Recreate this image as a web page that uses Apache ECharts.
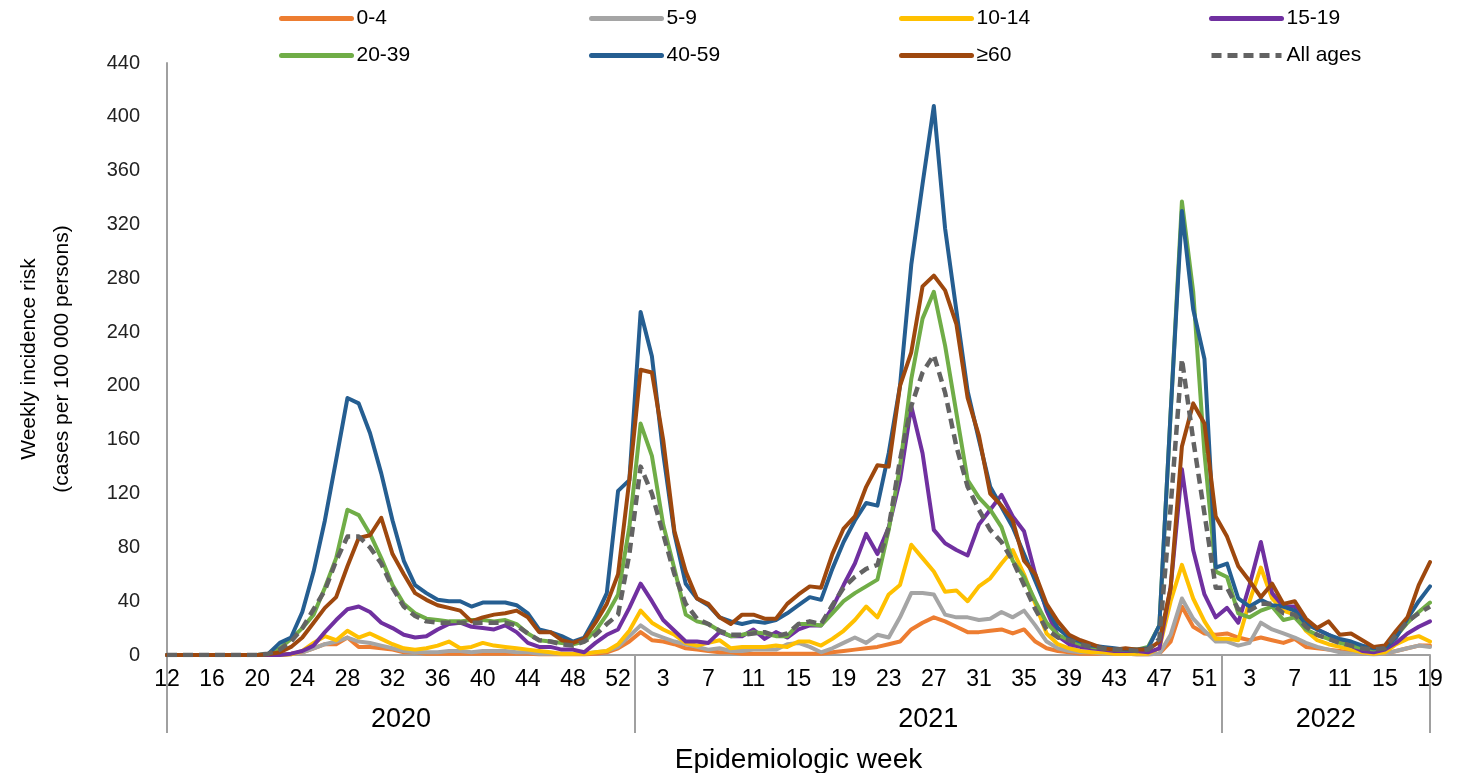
<!DOCTYPE html>
<html>
<head>
<meta charset="utf-8">
<script src="https://cdn.jsdelivr.net/npm/echarts@6/dist/echarts.min.js"></script>
<style>
html,body{margin:0;padding:0;background:#fff;}
#chart{width:1458px;height:773px;}
</style>
</head>
<body>
<div id="chart"></div>
<script>
// Epidemiologic weeks per year
const weeks2020 = [12,13,14,15,16,17,18,19,20,21,22,23,24,25,26,27,28,29,30,31,32,33,34,35,36,37,38,39,40,41,42,43,44,45,46,47,48,49,50,51,52,53];
const weeks2021 = [1,2,3,4,5,6,7,8,9,10,11,12,13,14,15,16,17,18,19,20,21,22,23,24,25,26,27,28,29,30,31,32,33,34,35,36,37,38,39,40,41,42,43,44,45,46,47,48,49,50,51,52];
const weeks2022 = [1,2,3,4,5,6,7,8,9,10,11,12,13,14,15,16,17,18,19];
const years = ['2020','2021','2022'];

const seriesNames = ['0-4','5-9','10-14','15-19','20-39','40-59','≥60','All ages'];

// Weekly incidence risk (cases per 100 000 persons), 2020 w12 -> 2022 w19
const age0_4 = [
  0,0,0,0,0,0,0,0,0,0,0.5,1, 2,5,8,8,13,6,6,5,4,2, 2,1,1,1,1,1,1,1,1,1, 1,0.5,0.5,0.5,0.5,0.5,1,2,5,10,
  17,11,10,8,5,4,3,2,2,1, 1,1,1,1,1,1,1,2,3,4, 5,6,8,10,19,24,28,25,21,17, 17,18,19,16,19,10,5,3,2,1, 1,1,1,1,0.5,0.5,1,10,36,21, 16,15,
  16,13,11,13,11,9,12,6,5,4, 3,2,1,1,1,3,5,7,7
];
const age5_9 = [
  0,0,0,0,0,0,0,0,0,0,0,0.5, 2,5,8,10,13,10,9,7,5,3, 2,2,2,3,3,2,3,3,3,2, 2,1,1,1,1,1,2,3,6,14,
  22,16,13,10,8,6,4,5,3,3, 4,4,4,8,9,6,2,5,9,13, 9,15,13,28,46,46,45,30,28,28, 26,27,32,28,33,22,10,5,3,2, 2,1,1,1,0.5,0.5,1,15,42,27, 18,10,
  10,7,9,24,19,16,13,9,6,4, 2,1,1,0.5,1,3,5,7,6
];
const age10_14 = [
  0,0,0,0,0,0,0,0,0,0,0,0.5, 3,9,14,11,18,13,16,12,8,5, 4,5,7,10,5,6,9,7,6,5, 4,3,2,1,1,1,2,3,8,18,
  33,24,19,15,9,7,9,11,5,6, 6,6,7,6,10,10,7,12,18,26, 36,28,45,52,82,72,62,47,48,40, 51,57,68,78,60,38,16,8,5,3, 2,2,1,1,1,1,5,40,67,42, 25,12,
  12,11,40,65,42,33,30,18,11,8, 6,4,2,1,2,8,12,14,10
];
const age15_19 = [
  0,0,0,0,0,0,0,0,0,0,0,1, 3,7,17,26,34,36,32,24,20,15, 13,14,19,23,24,21,20,19,22,17, 9,6,6,4,4,2,9,15,19,35,
  53,40,26,18,10,10,9,17,14,14, 19,12,17,13,19,22,22,35,52,68, 90,75,95,130,185,150,93,83,78,74, 97,108,119,103,92,60,33,14,8,6, 5,4,3,3,3,2,5,50,138,78, 45,28,
  35,24,52,84,46,36,36,25,19,15, 10,7,3,2,4,9,16,21,25
];
const age20_39 = [
  0,0,0,0,0,0,0,0,0,1,5,12, 20,30,50,72,108,104,90,72,52,38, 31,27,26,25,25,26,26,25,26,23, 16,11,10,9,8,10,18,30,45,95,
  172,148,97,64,30,25,23,18,14,15, 17,16,14,14,23,23,22,31,40,46, 51,56,93,140,205,250,270,230,180,130, 117,108,95,70,58,40,24,15,11,8, 6,5,4,4,4,6,22,180,337,270, 150,62,
  58,31,28,33,36,26,28,19,15,12, 9,7,5,4,6,14,24,32,39
];
const age40_59 = [
  0,0,0,0,0,0,0,0,0,1,9,13, 32,62,100,145,191,187,165,135,100,70, 52,46,41,40,40,36,39,39,39,37, 31,19,17,14,10,13,28,46,122,130,
  255,222,150,90,53,42,37,28,25,23, 25,24,26,31,37,43,41,64,84,100, 113,111,150,200,290,350,408,317,256,196, 160,125,110,95,75,55,35,20,13,10, 7,6,5,4,4,5,22,180,330,257, 220,65,
  68,42,36,41,37,36,33,23,19,15, 12,10,7,5,5,13,27,40,51
];
const age60plus = [
  0,0,0,0,0,0,0,0,0,0.5,2,6, 13,24,35,43,66,87,89,102,75,60, 46,41,37,35,33,25,28,30,31,33, 28,17,17,11,9,12,24,38,60,130,
  212,210,160,92,62,42,38,28,23,30, 30,27,27,38,45,51,50,75,94,103, 125,141,140,200,225,274,282,271,246,191, 163,120,111,100,70,60,38,25,15,11, 8,5,4,5,4,4,10,50,155,187, 172,103,
  88,66,55,43,53,38,40,27,20,25, 15,16,11,6,7,18,28,52,69
];
const allAges = [
  0,0,0,0,0,0,0,0,0,1,4,10, 20,34,48,70,88,88,80,68,50,36, 29,25,24,24,24,24,24,24,24,22, 16,11,10,8,7,10,15,23,30,75,
  140,120,90,60,38,27,23,18,15,15, 16,17,14,16,23,25,23,37,50,58, 64,67,95,145,185,210,223,195,155,125, 108,93,84,70,52,34,19,13,11,8, 6,5,4,4,3,4,12,110,220,160, 105,50,
  50,34,33,38,38,31,30,21,15,12, 9,7,5,4,5,15,25,31,36
];

const seriesValues = [age0_4, age5_9, age10_14, age15_19, age20_39, age40_59, age60plus, allAges];
const colors = ['#ED7D31','#A5A5A5','#FFC000','#7030A0','#70AD47','#255E91','#9E480E','#636363'];

// categories
const yearWeeks = [weeks2020, weeks2021, weeks2022];
const categories = [];
yearWeeks.forEach((ws, yi) => ws.forEach(w => categories.push(years[yi] + '-' + w)));
const lastIndex = categories.length - 1;

// year boundaries (in category index units) and centres
const bounds = [0];
let acc = 0;
yearWeeks.forEach((ws, yi) => {
  acc += ws.length;
  bounds.push(yi === yearWeeks.length - 1 ? lastIndex : acc - 0.5);
});
const centres = [];
for (let i = 0; i < years.length; i++) centres.push((bounds[i] + bounds[i + 1]) / 2);

const FONT = '"Liberation Sans", Arial, sans-serif';
const AXIS_GRAY = '#a0a0a0';
const isDashed = name => name === 'All ages';

const chart = echarts.init(document.getElementById('chart'), null, {renderer: 'canvas'});

const legends = seriesNames.map((name, i) => ({
  data: [name],
  left: 279 + (i % 4) * 310,
  top: i < 4 ? 8 : 45,
  itemWidth: 70,
  itemHeight: 16,
  itemGap: 0,
  padding: 0,
  itemStyle: {opacity: 0},
  lineStyle: {width: 5, cap: isDashed(name) ? 'butt' : 'round'},
  textStyle: {fontFamily: FONT, fontSize: 21, color: '#000', padding: [0, 0, 0, 0]},
  selectedMode: false
}));

const option = {
  animation: false,
  backgroundColor: '#fff',
  legend: legends,
  grid: {left: 167, right: 28, top: 63, bottom: 118, containLabel: false, outerBoundsMode: 'none'},
  xAxis: [
    {
      type: 'category',
      data: categories,
      boundaryGap: false,
      axisLine: {show: true, lineStyle: {color: AXIS_GRAY, width: 2}},
      axisTick: {show: false},
      splitLine: {show: false},
      axisLabel: {
        interval: 3,
        margin: 13,
        fontFamily: FONT,
        fontSize: 23,
        color: '#000',
        formatter: v => v.split('-')[1]
      },
      name: 'Epidemiologic week',
      nameLocation: 'middle',
      nameGap: 91,
      nameTextStyle: {fontFamily: FONT, fontSize: 28, color: '#000'}
    },
    {
      type: 'value',
      min: 0,
      max: lastIndex,
      position: 'bottom',
      axisLine: {show: false},
      splitLine: {show: false},
      axisTick: {show: true, customValues: bounds, length: 78, lineStyle: {color: AXIS_GRAY, width: 2}},
      axisLabel: {
        show: true,
        customValues: centres,
        margin: 51,
        fontFamily: FONT,
        fontSize: 27,
        color: '#000',
        formatter: v => {
          const k = centres.findIndex(c => Math.abs(c - v) < 1e-6);
          return k >= 0 ? years[k] : '';
        }
      }
    }
  ],
  yAxis: {
    type: 'value',
    min: 0,
    max: 440,
    interval: 40,
    axisLine: {show: true, lineStyle: {color: AXIS_GRAY, width: 2}},
    axisTick: {show: false},
    splitLine: {show: false},
    axisLabel: {margin: 27, fontFamily: FONT, fontSize: 20, color: '#222'},
    name: 'Weekly incidence risk\n(cases per 100 000 persons)',
    nameLocation: 'middle',
    nameRotate: 90,
    nameGap: 88,
    nameTextStyle: {fontFamily: FONT, fontSize: 21, color: '#000', lineHeight: 33}
  },
  series: seriesNames.map((name, i) => ({
    name: name,
    type: 'line',
    data: seriesValues[i],
    xAxisIndex: 0,
    symbol: 'none',
    showSymbol: false,
    smooth: false,
    color: colors[i],
    lineStyle: {
      color: colors[i],
      width: isDashed(name) ? 4.5 : 4,
      type: isDashed(name) ? [10, 6] : 'solid',
      join: 'round',
      cap: isDashed(name) ? 'butt' : 'round'
    },
    z: 2 + i
  }))
};

chart.setOption(option);
</script>
</body>
</html>
